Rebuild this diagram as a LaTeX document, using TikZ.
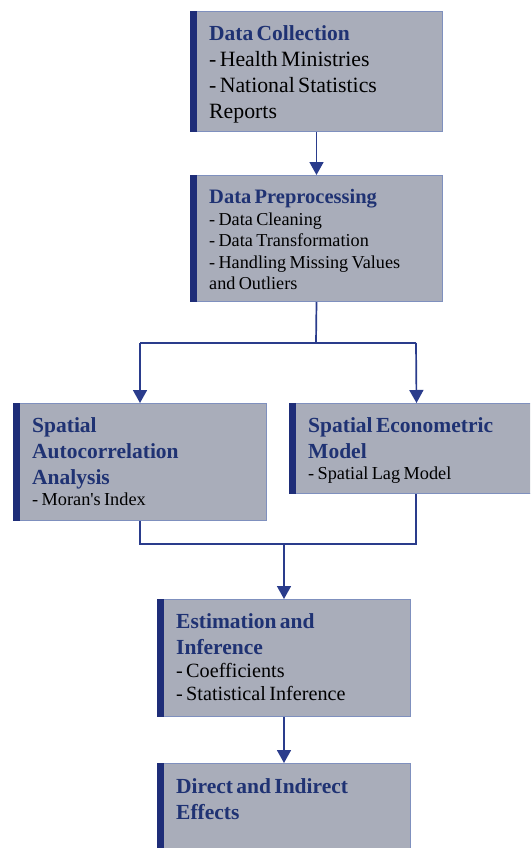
\documentclass[tikz,border=0pt]{standalone}
\usepackage{fontspec}
\setmainfont{Liberation Serif}
\usetikzlibrary{arrows.meta}

\definecolor{boxfill}{HTML}{A9ADBA}
\definecolor{boxline}{HTML}{7F90BE}
\definecolor{barc}{HTML}{1E2D78}
\definecolor{titlec}{HTML}{1F3273}
\definecolor{linkc}{HTML}{2A3C8C}

% step title and bullet lines
\newcommand{\steptitle}[2][21.5]{{\fontsize{#1}{26}\selectfont\bfseries\color{titlec}#2\par}}
\newcommand{\stepbody}[3]{{\fontsize{#1}{#2}\selectfont #3\par}}

\tikzset{
  stepbox/.style={fill=boxfill, draw=boxline, line width=1pt, inner sep=0pt, anchor=north west},
  steptext/.style={anchor=north west, inner sep=0pt, align=left, text width=240pt, text=black},
  link/.style={draw=linkc, line width=1.7pt, -{Triangle[width=14pt,length=13pt]}},
  plainlink/.style={draw=linkc, line width=1.7pt}
}

\newcommand{\leftbar}[1]{\fill[barc] (#1.north west) rectangle ([xshift=6.5pt]#1.south west);}

\begin{document}
\begin{tikzpicture}[x=1pt,y=-1pt]
\useasboundingbox (0,0) rectangle (530,848);
\clip (0,0) rectangle (530,848);

% boxes
\node[stepbox, minimum width=252pt, minimum height=120pt] (b1) at (190,11) {};
\node[stepbox, minimum width=252pt, minimum height=126pt] (b2) at (190,175) {};
\node[stepbox, minimum width=253pt, minimum height=117pt] (b3) at (13,403) {};
\node[stepbox, minimum width=254pt, minimum height=90pt]  (b4) at (289,403) {};
\node[stepbox, minimum width=253pt, minimum height=117pt] (b5) at (157,599) {};
\node[stepbox, minimum width=253pt, minimum height=120pt] (b6) at (157,763) {};
\foreach \b in {b1,b2,b3,b4,b5,b6} {\leftbar{\b}}

% texts
\node[steptext] (t1) at ([xshift=19pt,yshift=-14.5pt]b1.north west) {%
  \steptitle{Data Collection}%
  \stepbody{21.8}{26}{- Health Ministries\\- National Statistics\\Reports}};
\node[steptext] (t2) at ([xshift=19pt,yshift=-14.5pt]b2.north west) {%
  \steptitle[20.5]{Data Preprocessing}%
  \stepbody{18.2}{21.5}{- Data Cleaning\\- Data Transformation\\- Handling Missing Values\\and Outliers}};
\node[steptext] (t3) at ([xshift=19pt,yshift=-14.5pt]b3.north west) {%
  \steptitle{Spatial\\Autocorrelation\\Analysis}%
  \stepbody{18.3}{20.5}{- Moran\textquotesingle s Index}};
\node[steptext] (t4) at ([xshift=19pt,yshift=-14.5pt]b4.north west) {%
  \steptitle{Spatial Econometric\\Model}%
  \stepbody{18.3}{20.5}{- Spatial Lag Model}};
\node[steptext] (t5) at ([xshift=19pt,yshift=-14.5pt]b5.north west) {%
  \steptitle{Estimation and\\Inference}%
  \stepbody{20.2}{23}{- Coefficients\\- Statistical Inference}};
\node[steptext] (t6) at ([xshift=19pt,yshift=-15pt]b6.north west) {%
  \steptitle{Direct and Indirect\\Effects}};

% connectors
\coordinate (split) at (316,343);
\coordinate (splitL) at (140,343);
\coordinate (splitR) at (416,343);
\coordinate (joinL) at (140,544);
\coordinate (joinR) at (416,544);
\coordinate (join) at (284,544);

\draw[link] (b1.south) -- (b2.north);
\draw[plainlink] (b2.south) -- (split);
\draw[plainlink] (splitL) -- (splitR);
\draw[link] (splitL) -- (b3.north);
\draw[link] (splitR) -- (b4.north);
\draw[plainlink] (b3.south -| joinL) -- (joinL) -- (joinR) -- (b4.south -| joinR);
\draw[link] (join) -- (join |- b5.north);
\draw[link] (b5.south) -- (b6.north);
\end{tikzpicture}
\end{document}
